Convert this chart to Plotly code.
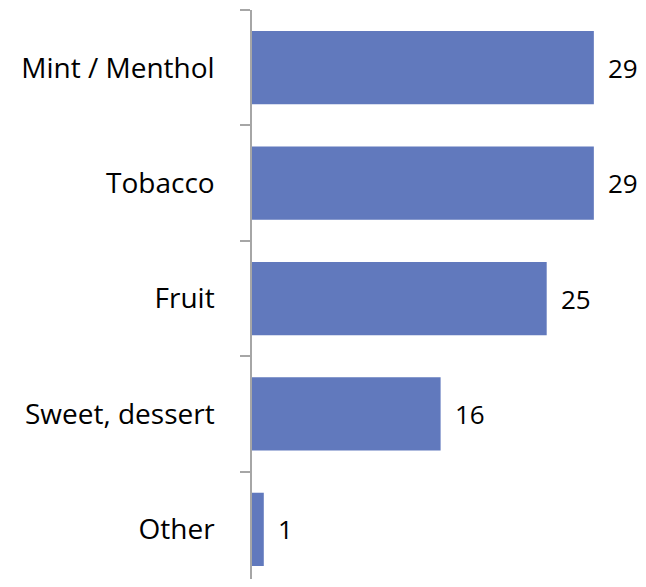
import plotly.graph_objects as go

flavours = ["Mint / Menthol", "Tobacco", "Fruit", "Sweet, dessert", "Other"]
shares = [29, 29, 25, 16, 1]

bar_colour = "#6179BD"
label_font = dict(family="Open Sans, Arial, sans-serif", size=28, color="#000000")
value_font = dict(family="Open Sans, Arial, sans-serif", size=26, color="#000000")

fig = go.Figure(go.Bar(
    x=shares,
    y=flavours,
    orientation="h",
    marker=dict(color=bar_colour, line=dict(width=0)),
))

# value labels a little way past the end of each bar
for name, val in zip(flavours, shares):
    fig.add_annotation(x=val, y=name, text=str(val), showarrow=False,
                       xanchor="left", xshift=12, font=value_font)

# page body adds an 8px margin all round
fig.update_layout(
    width=638, height=571,
    margin=dict(l=244, r=5, t=2, b=0),
    paper_bgcolor="white", plot_bgcolor="white",
    bargap=0.365,
    showlegend=False,
)
fig.update_xaxes(range=[0, 33], visible=False)
fig.update_yaxes(
    range=[4.43, -0.5],
    automargin=False,
    tickson="boundaries",
    ticks="outside", ticklen=10, tickcolor="#A6A6A6", tickwidth=1.5,
    showline=True, linecolor="#A6A6A6", linewidth=1.5,
    showgrid=False,
    ticklabelstandoff=30,
    tickfont=label_font,
)

fig.write_html("out.html")
